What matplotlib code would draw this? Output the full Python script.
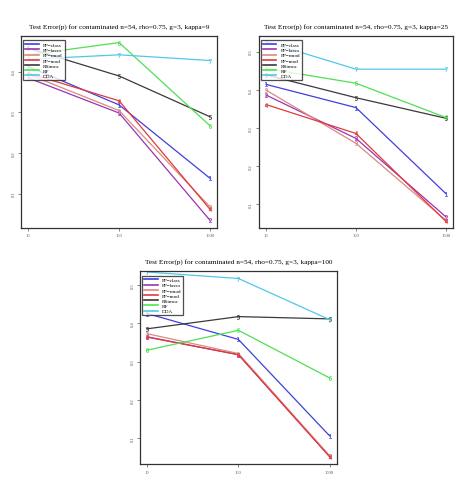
import matplotlib.pyplot as plt
import numpy as np

plt.rcParams["font.family"] = ["Liberation Serif", "DejaVu Serif"]

sample_sizes = ["10", "100", "1000"]
methods = ["PP\u2212class", "PP\u2212lasso", "PP\u2212rmod", "PP\u2212mod", "RSimca", "RF", "DDA"]
colors = ["#3f3fe0", "#9a35b5", "#d98a80", "#e03a3a", "#3a3a3a", "#4fe04f", "#4fc8e8"]

kappas = [9, 25, 100]

# test error per method (rows) at n = 10, 100, 1000
err_k9 = [
    [0.412, 0.318, 0.138],
    [0.384, 0.298, 0.035],
    [0.393, 0.304, 0.068],
    [0.396, 0.328, 0.062],
    [0.457, 0.389, 0.289],
    [0.441, 0.471, 0.267],
    [0.430, 0.441, 0.427],
]
err_k25 = [
    [0.414, 0.353, 0.127],
    [0.386, 0.272, 0.066],
    [0.399, 0.259, 0.057],
    [0.361, 0.285, 0.054],
    [0.439, 0.379, 0.325],
    [0.456, 0.417, 0.327],
    [0.526, 0.454, 0.454],
]
err_k100 = [
    [0.426, 0.358, 0.105],
    [0.365, 0.318, 0.051],
    [0.373, 0.321, 0.053],
    [0.364, 0.318, 0.050],
    [0.386, 0.418, 0.412],
    [0.330, 0.382, 0.257],
    [0.535, 0.518, 0.410],
]

y_ticks = {9: [0.1, 0.2, 0.3, 0.4], 25: [0.1, 0.2, 0.3, 0.4, 0.5], 100: [0.1, 0.2, 0.3, 0.4, 0.5]}
y_limits = {9: (0.016, 0.488), 25: (0.037, 0.542), 100: (0.031, 0.538)}

fig = plt.figure(figsize=(4.59, 4.89), dpi=100)
positions = [
    [0.046, 0.532, 0.427, 0.393],
    [0.564, 0.532, 0.423, 0.393],
    [0.305, 0.049, 0.429, 0.395],
]

x = np.arange(1, len(sample_sizes) + 1)
for pos, kappa, errs in zip(positions, kappas, [err_k9, err_k25, err_k100]):
    ax = fig.add_axes(pos)
    for i, (name, col, vals) in enumerate(zip(methods, colors, errs)):
        ax.plot(x, vals, color=col, lw=0.9, marker=f"${i + 1}$", ms=3,
                mew=0.2, label=name)
    ax.set_xlim(0.92, 3.08)
    ax.set_ylim(*y_limits[kappa])
    ax.set_xticks(x)
    ax.set_xticklabels(sample_sizes)
    ax.set_yticks(y_ticks[kappa])
    ax.set_yticklabels([f"{v:.1f}" for v in y_ticks[kappa]], rotation=90, va="center")
    ax.tick_params(labelsize=3.3, length=2, width=0.5, pad=2, colors="#555555")
    for s in ax.spines.values():
        s.set_color("#333333")
        s.set_linewidth(0.9)
    ax.set_title(f"Test Error(p) for contaminated n=54, rho=0.75, g=3, kappa={kappa}",
                 fontsize=5.2, pad=6)
    leg = ax.legend(loc="upper left", bbox_to_anchor=(0.012, 0.975), fontsize=3.7,
                    frameon=True, fancybox=False, handlelength=2.6, handletextpad=0.9,
                    labelspacing=0.12, borderpad=0.35, borderaxespad=0.0)
    leg.get_frame().set_edgecolor("#222222")
    leg.get_frame().set_linewidth(0.9)
    for h in leg.get_lines():
        h.set_marker("")
        h.set_linewidth(1.2)

fig.savefig("out.png", dpi=100)
